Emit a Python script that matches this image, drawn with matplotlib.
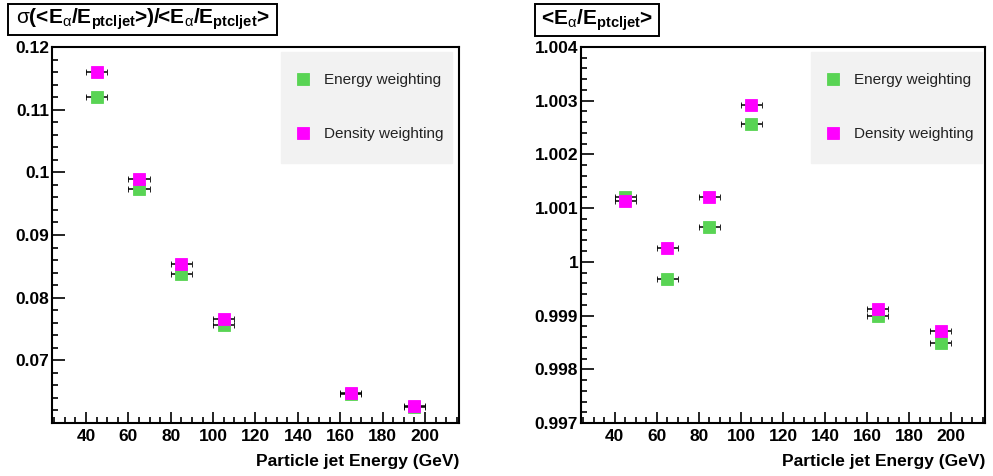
import numpy as np
import matplotlib.pyplot as plt
from matplotlib.patches import Rectangle
from matplotlib.ticker import MultipleLocator, FormatStrFormatter, FixedLocator

plt.rcParams['font.family'] = ['Liberation Sans', 'DejaVu Sans']
plt.rcParams['mathtext.fontset'] = 'custom'
plt.rcParams['mathtext.rm'] = 'Liberation Sans:bold'
plt.rcParams['mathtext.bf'] = 'Liberation Sans:bold'
plt.rcParams['mathtext.it'] = 'Liberation Sans'

# data
energy = [45, 65, 85, 105, 165, 195]
energy_err = [5, 5, 5, 5, 5, 5]
res_energy = [0.1121, 0.0973, 0.0838, 0.0757, 0.0647, 0.0626]
res_density = [0.1160, 0.0989, 0.0853, 0.0766, 0.0648, 0.0627]
mean_energy = [1.00120, 0.99968, 1.00065, 1.00257, 0.99900, 0.99849]
mean_density = [1.00114, 1.00026, 1.00120, 1.00292, 0.99912, 0.99871]

labels = ["Energy weighting", "Density weighting"]
colors = ["#59d454", "#ff00ff"]
xticks = [40, 60, 80, 100, 120, 140, 160, 180, 200]

left_title = r'$\sigma$(<E$_{\alpha}$/E$_{\mathbf{ptcljet}}$>)/<E$_{\alpha}$/E$_{\mathbf{ptcljet}}$>'
right_title = r'<E$_{\alpha}$/E$_{\mathbf{ptcljet}}$>'

W, H = 993, 476
fig = plt.figure(figsize=(W / 100, H / 100), dpi=100)


def px_axes(x0, x1, y0, y1):
    return fig.add_axes([x0 / W, 1 - y1 / H, (x1 - x0) / W, (y1 - y0) / H])


def style(ax, ylim, ymajor, yminor, fmt):
    ax.set_xlim(24, 216)
    ax.set_ylim(*ylim)
    ax.xaxis.set_major_locator(FixedLocator(xticks))
    ax.xaxis.set_minor_locator(MultipleLocator(5))
    ax.yaxis.set_major_locator(FixedLocator(ymajor))
    ax.yaxis.set_minor_locator(MultipleLocator(yminor))
    ax.yaxis.set_major_formatter(FormatStrFormatter(fmt))
    ax.tick_params(axis='both', which='both', direction='in', top=False, right=False,
                   labelsize=12.5, width=1.2)
    ax.tick_params(axis='y', which='major', length=9, pad=2)
    ax.tick_params(axis='y', which='minor', length=4.5)
    ax.tick_params(axis='x', which='major', length=8, pad=4)
    ax.tick_params(axis='x', which='minor', length=4)
    for lab in ax.get_xticklabels() + ax.get_yticklabels():
        lab.set_fontweight('bold')
    for sp in ax.spines.values():
        sp.set_linewidth(1.5)
    ax.set_xlabel("Particle jet Energy (GeV)", fontsize=12.5, fontweight='bold', ha='right')
    ax.xaxis.set_label_coords(1.0, -0.083)


def draw(ax, ys, legend_box):
    handles = []
    for y, c, lab in zip(ys, colors, labels):
        eb = ax.errorbar(energy, y, xerr=energy_err, fmt='s', color=c, ecolor='black',
                         elinewidth=1.1, capsize=2.5, capthick=1.3, markersize=8.6,
                         markeredgewidth=0.6, markeredgecolor=c, label=lab)
        handles.append(eb[0])
    leg = ax.legend(handles=handles, labels=labels, loc='upper left', mode='expand',
                    bbox_to_anchor=legend_box, borderaxespad=0, fontsize=11,
                    borderpad=1.4, labelspacing=2.6, handlelength=0.1, handletextpad=1.3,
                    fancybox=False, framealpha=1, facecolor='#f2f2f2', edgecolor='#f2f2f2')
    for t in leg.get_texts():
        t.set_color('#222222')


def title_box(x0, x1, y0, y1, text):
    fig.add_artist(Rectangle((x0 / W, 1 - y1 / H), (x1 - x0) / W, (y1 - y0) / H,
                             transform=fig.transFigure, facecolor='white',
                             edgecolor='black', linewidth=1.4))
    fig.text((x0 + x1) / 2 / W, 1 - (y0 + y1) / 2 / H, text, ha='center', va='center',
             fontsize=15, fontweight='bold')


ax1 = px_axes(52, 459, 47, 423)
style(ax1, (0.06, 0.12), [0.07, 0.08, 0.09, 0.1, 0.11, 0.12], 0.002, '%g')
draw(ax1, [res_energy, res_density], (0.5627, 0.0, 0.4201, 0.9867))

ax2 = px_axes(581, 985, 47, 423)
style(ax2, (0.997, 1.004), [0.997, 0.998, 0.999, 1.0, 1.001, 1.002, 1.003, 1.004], 0.0002, '%g')
draw(ax2, [mean_energy, mean_density], (0.5693, 0.0, 0.4233, 0.9867))

title_box(8, 277, 4, 35, left_title)
title_box(535, 659, 4, 36, right_title)

fig.savefig("out.png", dpi=100)
